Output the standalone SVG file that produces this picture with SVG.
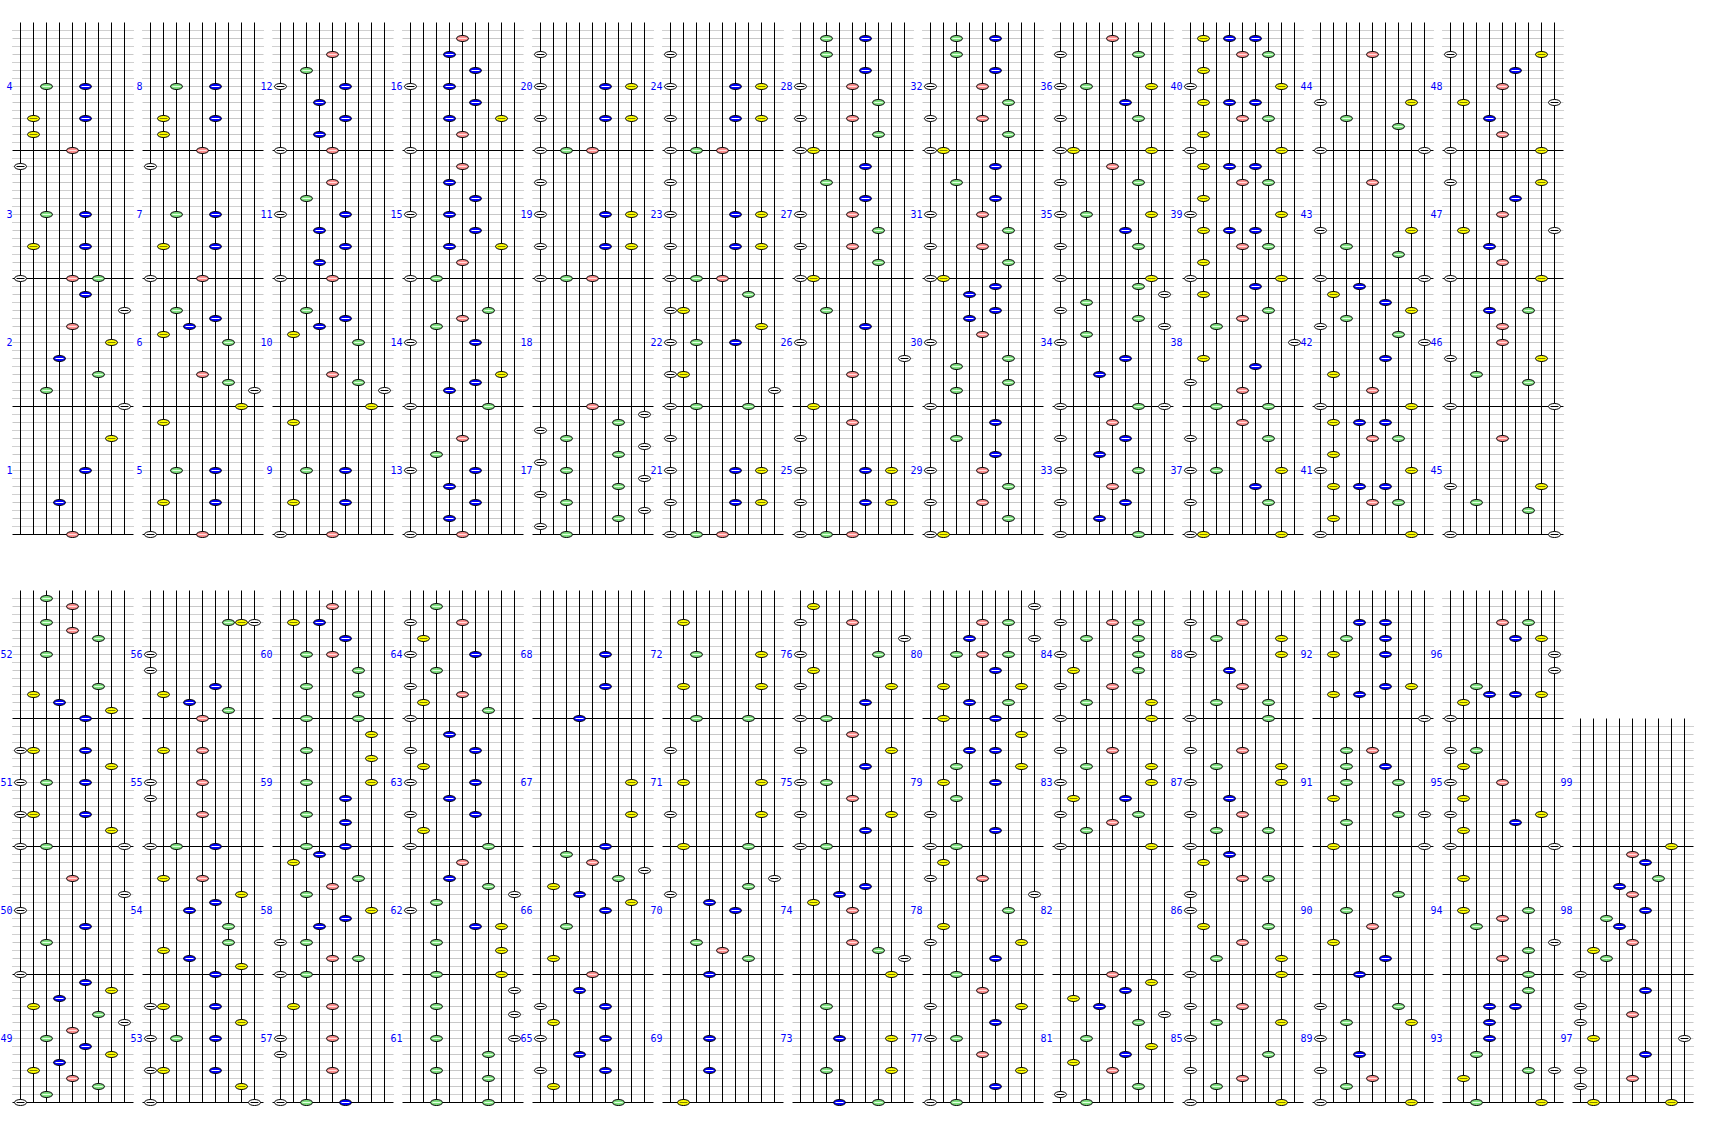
<svg xmlns="http://www.w3.org/2000/svg" xmlns:xlink="http://www.w3.org/1999/xlink" width="1720" height="1128" viewBox="0 0 1720 1128">
<style>
.h1{stroke:#a0a0a0;stroke-dasharray:1 1;fill:none}
.h2{stroke:#c8c8c8;fill:none}
.hb{stroke:#000;fill:none}
.v{stroke:#000;fill:none}
.lb{font-family:"DejaVu Sans Mono","Liberation Mono",monospace;font-size:10px;fill:#0000ff;text-anchor:end}
.ol{stroke:#000;stroke-width:1}
</style>
<defs>
<g id="m">
<path class="h1" d="M12 8H133M12 24H133M12 40H133M12 56H133M12 72H133M12 88H133M12 104H133M12 120H133"/>
<path class="h2" d="M12 16H133M12 32H133M12 48H133M12 64H133M12 80H133M12 96H133M12 112H133"/>
<path class="hb" d="M12 128H133"/>
<path class="v" d="M20 0V128M33 0V128M46 0V128M59 0V128M72 0V128M85 0V128M98 0V128M111 0V128M124 0V128"/>
</g>
<g id="W"><ellipse class="ol" rx="6" ry="3" fill="#ffffff"/><path d="M-4 0H4" stroke="#000"/></g>
<g id="Y"><ellipse class="ol" rx="6" ry="3" fill="#ffff00"/><path d="M-4 0H4" stroke="#808000"/></g>
<g id="G"><ellipse class="ol" rx="6" ry="3" fill="#80e080"/><path d="M-4 0H4" stroke="#e0ffe0"/></g>
<g id="B"><ellipse class="ol" rx="6" ry="3" fill="#0000ff"/><path d="M-4 0H4" stroke="#ffffff"/></g>
<g id="R"><ellipse class="ol" rx="6" ry="3" fill="#ff9090"/><path d="M-4 0H4" stroke="#ffe0e0"/></g>
<use id="l0" href="#W" x="20"/>
<use id="l1" href="#Y" x="33"/>
<use id="l2" href="#G" x="46"/>
<use id="l3" href="#B" x="59"/>
<use id="l4" href="#R" x="72"/>
<use id="l5" href="#B" x="85"/>
<use id="l6" href="#G" x="98"/>
<use id="l7" href="#Y" x="111"/>
<use id="l8" href="#W" x="124"/>
<g id="col"><use href="#m"/><use href="#m" y="128"/><use href="#m" y="256"/><use href="#m" y="384"/></g>
</defs>
<rect width="1720" height="1128" fill="#fff"/>

<g id="connectors"></g>

<g id="c0" transform="translate(0.5,22.5)"><use href="#col"/>
<text class="lb" x="12" y="67.5">4</text><text class="lb" x="12" y="195.5">3</text><text class="lb" x="12" y="323.5">2</text><text class="lb" x="12" y="451.5">1</text>
<use href="#l2" y="64"/><use href="#l5" y="64"/><use href="#l1" y="96"/><use href="#l5" y="96"/><use href="#l1" y="112"/><use href="#l4" y="128"/><use href="#l0" y="144"/><use href="#l2" y="192"/><use href="#l5" y="192"/><use href="#l1" y="224"/><use href="#l5" y="224"/><use href="#l0" y="256"/><use href="#l4" y="256"/><use href="#l6" y="256"/><use href="#l5" y="272"/><use href="#l8" y="288"/><use href="#l4" y="304"/><use href="#l7" y="320"/><use href="#l3" y="336"/><use href="#l6" y="352"/><use href="#l2" y="368"/><use href="#l8" y="384"/><use href="#l7" y="416"/><use href="#l5" y="448"/><use href="#l3" y="480"/><use href="#l4" y="512"/>
</g>

<g id="c1" transform="translate(130.5,22.5)"><use href="#col"/>
<text class="lb" x="12" y="67.5">8</text><text class="lb" x="12" y="195.5">7</text><text class="lb" x="12" y="323.5">6</text><text class="lb" x="12" y="451.5">5</text>
<use href="#l2" y="64"/><use href="#l5" y="64"/><use href="#l1" y="96"/><use href="#l5" y="96"/><use href="#l1" y="112"/><use href="#l4" y="128"/><use href="#l0" y="144"/><use href="#l2" y="192"/><use href="#l5" y="192"/><use href="#l1" y="224"/><use href="#l5" y="224"/><use href="#l0" y="256"/><use href="#l4" y="256"/><use href="#l2" y="288"/><use href="#l5" y="296"/><use href="#l3" y="304"/><use href="#l1" y="312"/><use href="#l6" y="320"/><use href="#l4" y="352"/><use href="#l6" y="360"/><use href="#l8" y="368"/><use href="#l7" y="384"/><use href="#l1" y="400"/><use href="#l2" y="448"/><use href="#l5" y="448"/><use href="#l1" y="480"/><use href="#l5" y="480"/><use href="#l0" y="512"/><use href="#l4" y="512"/>
</g>

<g id="c2" transform="translate(260.5,22.5)"><use href="#col"/>
<text class="lb" x="12" y="67.5">12</text><text class="lb" x="12" y="195.5">11</text><text class="lb" x="12" y="323.5">10</text><text class="lb" x="12" y="451.5">9</text>
<use href="#l4" y="32"/><use href="#l2" y="48"/><use href="#l0" y="64"/><use href="#l5" y="64"/><use href="#l3" y="80"/><use href="#l5" y="96"/><use href="#l3" y="112"/><use href="#l0" y="128"/><use href="#l4" y="128"/><use href="#l4" y="160"/><use href="#l2" y="176"/><use href="#l0" y="192"/><use href="#l5" y="192"/><use href="#l3" y="208"/><use href="#l5" y="224"/><use href="#l3" y="240"/><use href="#l0" y="256"/><use href="#l4" y="256"/><use href="#l2" y="288"/><use href="#l5" y="296"/><use href="#l3" y="304"/><use href="#l1" y="312"/><use href="#l6" y="320"/><use href="#l4" y="352"/><use href="#l6" y="360"/><use href="#l8" y="368"/><use href="#l7" y="384"/><use href="#l1" y="400"/><use href="#l2" y="448"/><use href="#l5" y="448"/><use href="#l1" y="480"/><use href="#l5" y="480"/><use href="#l0" y="512"/><use href="#l4" y="512"/>
</g>

<g id="c3" transform="translate(390.5,22.5)"><use href="#col"/>
<text class="lb" x="12" y="67.5">16</text><text class="lb" x="12" y="195.5">15</text><text class="lb" x="12" y="323.5">14</text><text class="lb" x="12" y="451.5">13</text>
<use href="#l4" y="16"/><use href="#l3" y="32"/><use href="#l5" y="48"/><use href="#l0" y="64"/><use href="#l3" y="64"/><use href="#l5" y="80"/><use href="#l3" y="96"/><use href="#l7" y="96"/><use href="#l4" y="112"/><use href="#l0" y="128"/><use href="#l4" y="144"/><use href="#l3" y="160"/><use href="#l5" y="176"/><use href="#l0" y="192"/><use href="#l3" y="192"/><use href="#l5" y="208"/><use href="#l3" y="224"/><use href="#l7" y="224"/><use href="#l4" y="240"/><use href="#l0" y="256"/><use href="#l2" y="256"/><use href="#l6" y="288"/><use href="#l4" y="296"/><use href="#l2" y="304"/><use href="#l0" y="320"/><use href="#l5" y="320"/><use href="#l7" y="352"/><use href="#l5" y="360"/><use href="#l3" y="368"/><use href="#l0" y="384"/><use href="#l6" y="384"/><use href="#l4" y="416"/><use href="#l2" y="432"/><use href="#l0" y="448"/><use href="#l5" y="448"/><use href="#l3" y="464"/><use href="#l5" y="480"/><use href="#l3" y="496"/><use href="#l0" y="512"/><use href="#l4" y="512"/>
</g>

<g id="c4" transform="translate(520.5,22.5)"><use href="#col"/>
<text class="lb" x="12" y="67.5">20</text><text class="lb" x="12" y="195.5">19</text><text class="lb" x="12" y="323.5">18</text><text class="lb" x="12" y="451.5">17</text>
<use href="#l0" y="32"/><use href="#l0" y="64"/><use href="#l5" y="64"/><use href="#l7" y="64"/><use href="#l0" y="96"/><use href="#l5" y="96"/><use href="#l7" y="96"/><use href="#l0" y="128"/><use href="#l2" y="128"/><use href="#l4" y="128"/><use href="#l0" y="160"/><use href="#l0" y="192"/><use href="#l5" y="192"/><use href="#l7" y="192"/><use href="#l0" y="224"/><use href="#l5" y="224"/><use href="#l7" y="224"/><use href="#l0" y="256"/><use href="#l2" y="256"/><use href="#l4" y="256"/><use href="#l4" y="384"/><use href="#l8" y="392"/><use href="#l6" y="400"/><use href="#l0" y="408"/><use href="#l2" y="416"/><use href="#l8" y="424"/><use href="#l6" y="432"/><use href="#l0" y="440"/><use href="#l2" y="448"/><use href="#l8" y="456"/><use href="#l6" y="464"/><use href="#l0" y="472"/><use href="#l2" y="480"/><use href="#l8" y="488"/><use href="#l6" y="496"/><use href="#l0" y="504"/><use href="#l2" y="512"/>
</g>

<g id="c5" transform="translate(650.5,22.5)"><use href="#col"/>
<text class="lb" x="12" y="67.5">24</text><text class="lb" x="12" y="195.5">23</text><text class="lb" x="12" y="323.5">22</text><text class="lb" x="12" y="451.5">21</text>
<use href="#l0" y="32"/><use href="#l0" y="64"/><use href="#l5" y="64"/><use href="#l7" y="64"/><use href="#l0" y="96"/><use href="#l5" y="96"/><use href="#l7" y="96"/><use href="#l0" y="128"/><use href="#l2" y="128"/><use href="#l4" y="128"/><use href="#l0" y="160"/><use href="#l0" y="192"/><use href="#l5" y="192"/><use href="#l7" y="192"/><use href="#l0" y="224"/><use href="#l5" y="224"/><use href="#l7" y="224"/><use href="#l0" y="256"/><use href="#l2" y="256"/><use href="#l4" y="256"/><use href="#l6" y="272"/><use href="#l0" y="288"/><use href="#l1" y="288"/><use href="#l7" y="304"/><use href="#l0" y="320"/><use href="#l2" y="320"/><use href="#l5" y="320"/><use href="#l0" y="352"/><use href="#l1" y="352"/><use href="#l8" y="368"/><use href="#l0" y="384"/><use href="#l2" y="384"/><use href="#l6" y="384"/><use href="#l0" y="416"/><use href="#l0" y="448"/><use href="#l5" y="448"/><use href="#l7" y="448"/><use href="#l0" y="480"/><use href="#l5" y="480"/><use href="#l7" y="480"/><use href="#l0" y="512"/><use href="#l2" y="512"/><use href="#l4" y="512"/>
</g>

<g id="c6" transform="translate(780.5,22.5)"><use href="#col"/>
<text class="lb" x="12" y="67.5">28</text><text class="lb" x="12" y="195.5">27</text><text class="lb" x="12" y="323.5">26</text><text class="lb" x="12" y="451.5">25</text>
<use href="#l2" y="16"/><use href="#l5" y="16"/><use href="#l2" y="32"/><use href="#l5" y="48"/><use href="#l0" y="64"/><use href="#l4" y="64"/><use href="#l6" y="80"/><use href="#l0" y="96"/><use href="#l4" y="96"/><use href="#l6" y="112"/><use href="#l0" y="128"/><use href="#l1" y="128"/><use href="#l5" y="144"/><use href="#l2" y="160"/><use href="#l5" y="176"/><use href="#l0" y="192"/><use href="#l4" y="192"/><use href="#l6" y="208"/><use href="#l0" y="224"/><use href="#l4" y="224"/><use href="#l6" y="240"/><use href="#l0" y="256"/><use href="#l1" y="256"/><use href="#l2" y="288"/><use href="#l5" y="304"/><use href="#l0" y="320"/><use href="#l8" y="336"/><use href="#l4" y="352"/><use href="#l1" y="384"/><use href="#l4" y="400"/><use href="#l0" y="416"/><use href="#l0" y="448"/><use href="#l5" y="448"/><use href="#l7" y="448"/><use href="#l0" y="480"/><use href="#l5" y="480"/><use href="#l7" y="480"/><use href="#l0" y="512"/><use href="#l2" y="512"/><use href="#l4" y="512"/>
</g>

<g id="c7" transform="translate(910.5,22.5)"><use href="#col"/>
<text class="lb" x="12" y="67.5">32</text><text class="lb" x="12" y="195.5">31</text><text class="lb" x="12" y="323.5">30</text><text class="lb" x="12" y="451.5">29</text>
<use href="#l2" y="16"/><use href="#l5" y="16"/><use href="#l2" y="32"/><use href="#l5" y="48"/><use href="#l0" y="64"/><use href="#l4" y="64"/><use href="#l6" y="80"/><use href="#l0" y="96"/><use href="#l4" y="96"/><use href="#l6" y="112"/><use href="#l0" y="128"/><use href="#l1" y="128"/><use href="#l5" y="144"/><use href="#l2" y="160"/><use href="#l5" y="176"/><use href="#l0" y="192"/><use href="#l4" y="192"/><use href="#l6" y="208"/><use href="#l0" y="224"/><use href="#l4" y="224"/><use href="#l6" y="240"/><use href="#l0" y="256"/><use href="#l1" y="256"/><use href="#l5" y="264"/><use href="#l3" y="272"/><use href="#l5" y="288"/><use href="#l3" y="296"/><use href="#l4" y="312"/><use href="#l0" y="320"/><use href="#l6" y="336"/><use href="#l2" y="344"/><use href="#l6" y="360"/><use href="#l2" y="368"/><use href="#l0" y="384"/><use href="#l5" y="400"/><use href="#l2" y="416"/><use href="#l5" y="432"/><use href="#l0" y="448"/><use href="#l4" y="448"/><use href="#l6" y="464"/><use href="#l0" y="480"/><use href="#l4" y="480"/><use href="#l6" y="496"/><use href="#l0" y="512"/><use href="#l1" y="512"/>
</g>

<g id="c8" transform="translate(1040.5,22.5)"><use href="#col"/>
<text class="lb" x="12" y="67.5">36</text><text class="lb" x="12" y="195.5">35</text><text class="lb" x="12" y="323.5">34</text><text class="lb" x="12" y="451.5">33</text>
<use href="#l4" y="16"/><use href="#l0" y="32"/><use href="#l6" y="32"/><use href="#l0" y="64"/><use href="#l2" y="64"/><use href="#l7" y="64"/><use href="#l5" y="80"/><use href="#l0" y="96"/><use href="#l6" y="96"/><use href="#l0" y="128"/><use href="#l1" y="128"/><use href="#l7" y="128"/><use href="#l4" y="144"/><use href="#l0" y="160"/><use href="#l6" y="160"/><use href="#l0" y="192"/><use href="#l2" y="192"/><use href="#l7" y="192"/><use href="#l5" y="208"/><use href="#l0" y="224"/><use href="#l6" y="224"/><use href="#l0" y="256"/><use href="#l7" y="256"/><use href="#l6" y="264"/><use href="#l8" y="272"/><use href="#l2" y="280"/><use href="#l0" y="288"/><use href="#l6" y="296"/><use href="#l8" y="304"/><use href="#l2" y="312"/><use href="#l0" y="320"/><use href="#l5" y="336"/><use href="#l3" y="352"/><use href="#l0" y="384"/><use href="#l6" y="384"/><use href="#l8" y="384"/><use href="#l4" y="400"/><use href="#l0" y="416"/><use href="#l5" y="416"/><use href="#l3" y="432"/><use href="#l0" y="448"/><use href="#l6" y="448"/><use href="#l4" y="464"/><use href="#l0" y="480"/><use href="#l5" y="480"/><use href="#l3" y="496"/><use href="#l0" y="512"/><use href="#l6" y="512"/>
</g>

<g id="c9" transform="translate(1170.5,22.5)"><use href="#col"/>
<text class="lb" x="12" y="67.5">40</text><text class="lb" x="12" y="195.5">39</text><text class="lb" x="12" y="323.5">38</text><text class="lb" x="12" y="451.5">37</text>
<use href="#l1" y="16"/><use href="#l3" y="16"/><use href="#l5" y="16"/><use href="#l4" y="32"/><use href="#l6" y="32"/><use href="#l1" y="48"/><use href="#l0" y="64"/><use href="#l7" y="64"/><use href="#l1" y="80"/><use href="#l3" y="80"/><use href="#l5" y="80"/><use href="#l4" y="96"/><use href="#l6" y="96"/><use href="#l1" y="112"/><use href="#l0" y="128"/><use href="#l7" y="128"/><use href="#l1" y="144"/><use href="#l3" y="144"/><use href="#l5" y="144"/><use href="#l4" y="160"/><use href="#l6" y="160"/><use href="#l1" y="176"/><use href="#l0" y="192"/><use href="#l7" y="192"/><use href="#l1" y="208"/><use href="#l3" y="208"/><use href="#l5" y="208"/><use href="#l4" y="224"/><use href="#l6" y="224"/><use href="#l1" y="240"/><use href="#l0" y="256"/><use href="#l7" y="256"/><use href="#l5" y="264"/><use href="#l1" y="272"/><use href="#l6" y="288"/><use href="#l4" y="296"/><use href="#l2" y="304"/><use href="#l8" y="320"/><use href="#l1" y="336"/><use href="#l5" y="344"/><use href="#l0" y="360"/><use href="#l4" y="368"/><use href="#l2" y="384"/><use href="#l6" y="384"/><use href="#l4" y="400"/><use href="#l0" y="416"/><use href="#l6" y="416"/><use href="#l0" y="448"/><use href="#l2" y="448"/><use href="#l7" y="448"/><use href="#l5" y="464"/><use href="#l0" y="480"/><use href="#l6" y="480"/><use href="#l0" y="512"/><use href="#l1" y="512"/><use href="#l7" y="512"/>
</g>

<g id="c10" transform="translate(1300.5,22.5)"><use href="#col"/>
<text class="lb" x="12" y="67.5">44</text><text class="lb" x="12" y="195.5">43</text><text class="lb" x="12" y="323.5">42</text><text class="lb" x="12" y="451.5">41</text>
<use href="#l4" y="32"/><use href="#l0" y="80"/><use href="#l7" y="80"/><use href="#l2" y="96"/><use href="#l6" y="104"/><use href="#l0" y="128"/><use href="#l8" y="128"/><use href="#l4" y="160"/><use href="#l0" y="208"/><use href="#l7" y="208"/><use href="#l2" y="224"/><use href="#l6" y="232"/><use href="#l0" y="256"/><use href="#l8" y="256"/><use href="#l3" y="264"/><use href="#l1" y="272"/><use href="#l5" y="280"/><use href="#l7" y="288"/><use href="#l2" y="296"/><use href="#l0" y="304"/><use href="#l6" y="312"/><use href="#l8" y="320"/><use href="#l5" y="336"/><use href="#l1" y="352"/><use href="#l4" y="368"/><use href="#l0" y="384"/><use href="#l7" y="384"/><use href="#l1" y="400"/><use href="#l3" y="400"/><use href="#l5" y="400"/><use href="#l4" y="416"/><use href="#l6" y="416"/><use href="#l1" y="432"/><use href="#l0" y="448"/><use href="#l7" y="448"/><use href="#l1" y="464"/><use href="#l3" y="464"/><use href="#l5" y="464"/><use href="#l4" y="480"/><use href="#l6" y="480"/><use href="#l1" y="496"/><use href="#l0" y="512"/><use href="#l7" y="512"/>
</g>

<g id="c11" transform="translate(1430.5,22.5)"><use href="#col"/>
<text class="lb" x="12" y="67.5">48</text><text class="lb" x="12" y="195.5">47</text><text class="lb" x="12" y="323.5">46</text><text class="lb" x="12" y="451.5">45</text>
<use href="#l0" y="32"/><use href="#l7" y="32"/><use href="#l5" y="48"/><use href="#l4" y="64"/><use href="#l1" y="80"/><use href="#l8" y="80"/><use href="#l3" y="96"/><use href="#l4" y="112"/><use href="#l0" y="128"/><use href="#l7" y="128"/><use href="#l0" y="160"/><use href="#l7" y="160"/><use href="#l5" y="176"/><use href="#l4" y="192"/><use href="#l1" y="208"/><use href="#l8" y="208"/><use href="#l3" y="224"/><use href="#l4" y="240"/><use href="#l0" y="256"/><use href="#l7" y="256"/><use href="#l3" y="288"/><use href="#l6" y="288"/><use href="#l4" y="304"/><use href="#l4" y="320"/><use href="#l0" y="336"/><use href="#l7" y="336"/><use href="#l2" y="352"/><use href="#l6" y="360"/><use href="#l0" y="384"/><use href="#l8" y="384"/><use href="#l4" y="416"/><use href="#l0" y="464"/><use href="#l7" y="464"/><use href="#l2" y="480"/><use href="#l6" y="488"/><use href="#l0" y="512"/><use href="#l8" y="512"/>
</g>

<g id="d0" transform="translate(0.5,590.5)"><use href="#col"/>
<text class="lb" x="12" y="67.5">52</text><text class="lb" x="12" y="195.5">51</text><text class="lb" x="12" y="323.5">50</text><text class="lb" x="12" y="451.5">49</text>
<use href="#l2" y="8"/><use href="#l4" y="16"/><use href="#l2" y="32"/><use href="#l4" y="40"/><use href="#l6" y="48"/><use href="#l2" y="64"/><use href="#l6" y="96"/><use href="#l1" y="104"/><use href="#l3" y="112"/><use href="#l7" y="120"/><use href="#l5" y="128"/><use href="#l0" y="160"/><use href="#l1" y="160"/><use href="#l5" y="160"/><use href="#l7" y="176"/><use href="#l0" y="192"/><use href="#l2" y="192"/><use href="#l5" y="192"/><use href="#l0" y="224"/><use href="#l1" y="224"/><use href="#l5" y="224"/><use href="#l7" y="240"/><use href="#l0" y="256"/><use href="#l2" y="256"/><use href="#l8" y="256"/><use href="#l4" y="288"/><use href="#l8" y="304"/><use href="#l0" y="320"/><use href="#l5" y="336"/><use href="#l2" y="352"/><use href="#l0" y="384"/><use href="#l5" y="392"/><use href="#l7" y="400"/><use href="#l3" y="408"/><use href="#l1" y="416"/><use href="#l6" y="424"/><use href="#l8" y="432"/><use href="#l4" y="440"/><use href="#l2" y="448"/><use href="#l5" y="456"/><use href="#l7" y="464"/><use href="#l3" y="472"/><use href="#l1" y="480"/><use href="#l4" y="488"/><use href="#l6" y="496"/><use href="#l2" y="504"/><use href="#l0" y="512"/>
</g>

<g id="d1" transform="translate(130.5,590.5)"><use href="#col"/>
<text class="lb" x="12" y="67.5">56</text><text class="lb" x="12" y="195.5">55</text><text class="lb" x="12" y="323.5">54</text><text class="lb" x="12" y="451.5">53</text>
<use href="#l6" y="32"/><use href="#l7" y="32"/><use href="#l8" y="32"/><use href="#l0" y="64"/><use href="#l0" y="80"/><use href="#l5" y="96"/><use href="#l1" y="104"/><use href="#l3" y="112"/><use href="#l6" y="120"/><use href="#l4" y="128"/><use href="#l1" y="160"/><use href="#l4" y="160"/><use href="#l0" y="192"/><use href="#l4" y="192"/><use href="#l0" y="208"/><use href="#l4" y="224"/><use href="#l0" y="256"/><use href="#l2" y="256"/><use href="#l5" y="256"/><use href="#l1" y="288"/><use href="#l4" y="288"/><use href="#l7" y="304"/><use href="#l5" y="312"/><use href="#l3" y="320"/><use href="#l6" y="336"/><use href="#l6" y="352"/><use href="#l1" y="360"/><use href="#l3" y="368"/><use href="#l7" y="376"/><use href="#l5" y="384"/><use href="#l0" y="416"/><use href="#l1" y="416"/><use href="#l5" y="416"/><use href="#l7" y="432"/><use href="#l0" y="448"/><use href="#l2" y="448"/><use href="#l5" y="448"/><use href="#l0" y="480"/><use href="#l1" y="480"/><use href="#l5" y="480"/><use href="#l7" y="496"/><use href="#l0" y="512"/><use href="#l8" y="512"/>
</g>

<g id="d2" transform="translate(260.5,590.5)"><use href="#col"/>
<text class="lb" x="12" y="67.5">60</text><text class="lb" x="12" y="195.5">59</text><text class="lb" x="12" y="323.5">58</text><text class="lb" x="12" y="451.5">57</text>
<use href="#l4" y="16"/><use href="#l1" y="32"/><use href="#l3" y="32"/><use href="#l5" y="48"/><use href="#l2" y="64"/><use href="#l4" y="64"/><use href="#l6" y="80"/><use href="#l2" y="96"/><use href="#l6" y="104"/><use href="#l2" y="128"/><use href="#l6" y="128"/><use href="#l7" y="144"/><use href="#l2" y="160"/><use href="#l7" y="168"/><use href="#l2" y="192"/><use href="#l7" y="192"/><use href="#l5" y="208"/><use href="#l2" y="224"/><use href="#l5" y="232"/><use href="#l2" y="256"/><use href="#l5" y="256"/><use href="#l3" y="264"/><use href="#l1" y="272"/><use href="#l6" y="288"/><use href="#l4" y="296"/><use href="#l2" y="304"/><use href="#l7" y="320"/><use href="#l5" y="328"/><use href="#l3" y="336"/><use href="#l0" y="352"/><use href="#l2" y="352"/><use href="#l4" y="368"/><use href="#l6" y="368"/><use href="#l0" y="384"/><use href="#l2" y="384"/><use href="#l1" y="416"/><use href="#l4" y="416"/><use href="#l0" y="448"/><use href="#l4" y="448"/><use href="#l0" y="464"/><use href="#l4" y="480"/><use href="#l0" y="512"/><use href="#l2" y="512"/><use href="#l5" y="512"/>
</g>

<g id="d3" transform="translate(390.5,590.5)"><use href="#col"/>
<text class="lb" x="12" y="67.5">64</text><text class="lb" x="12" y="195.5">63</text><text class="lb" x="12" y="323.5">62</text><text class="lb" x="12" y="451.5">61</text>
<use href="#l2" y="16"/><use href="#l0" y="32"/><use href="#l4" y="32"/><use href="#l1" y="48"/><use href="#l0" y="64"/><use href="#l5" y="64"/><use href="#l2" y="80"/><use href="#l0" y="96"/><use href="#l4" y="104"/><use href="#l1" y="112"/><use href="#l6" y="120"/><use href="#l0" y="128"/><use href="#l3" y="144"/><use href="#l0" y="160"/><use href="#l5" y="160"/><use href="#l1" y="176"/><use href="#l0" y="192"/><use href="#l5" y="192"/><use href="#l3" y="208"/><use href="#l0" y="224"/><use href="#l5" y="224"/><use href="#l1" y="240"/><use href="#l0" y="256"/><use href="#l6" y="256"/><use href="#l4" y="272"/><use href="#l3" y="288"/><use href="#l6" y="296"/><use href="#l8" y="304"/><use href="#l2" y="312"/><use href="#l0" y="320"/><use href="#l5" y="336"/><use href="#l7" y="336"/><use href="#l2" y="352"/><use href="#l7" y="360"/><use href="#l2" y="384"/><use href="#l7" y="384"/><use href="#l8" y="400"/><use href="#l2" y="416"/><use href="#l8" y="424"/><use href="#l2" y="448"/><use href="#l8" y="448"/><use href="#l6" y="464"/><use href="#l2" y="480"/><use href="#l6" y="488"/><use href="#l2" y="512"/><use href="#l6" y="512"/>
</g>

<g id="d4" transform="translate(520.5,590.5)"><use href="#col"/>
<text class="lb" x="12" y="67.5">68</text><text class="lb" x="12" y="195.5">67</text><text class="lb" x="12" y="323.5">66</text><text class="lb" x="12" y="451.5">65</text>
<use href="#l5" y="64"/><use href="#l5" y="96"/><use href="#l3" y="128"/><use href="#l7" y="192"/><use href="#l7" y="224"/><use href="#l5" y="256"/><use href="#l2" y="264"/><use href="#l4" y="272"/><use href="#l8" y="280"/><use href="#l6" y="288"/><use href="#l1" y="296"/><use href="#l3" y="304"/><use href="#l7" y="312"/><use href="#l5" y="320"/><use href="#l2" y="336"/><use href="#l1" y="368"/><use href="#l4" y="384"/><use href="#l3" y="400"/><use href="#l0" y="416"/><use href="#l5" y="416"/><use href="#l1" y="432"/><use href="#l0" y="448"/><use href="#l5" y="448"/><use href="#l3" y="464"/><use href="#l0" y="480"/><use href="#l5" y="480"/><use href="#l1" y="496"/><use href="#l6" y="512"/>
</g>

<g id="d5" transform="translate(650.5,590.5)"><use href="#col"/>
<text class="lb" x="12" y="67.5">72</text><text class="lb" x="12" y="195.5">71</text><text class="lb" x="12" y="323.5">70</text><text class="lb" x="12" y="451.5">69</text>
<use href="#l1" y="32"/><use href="#l2" y="64"/><use href="#l7" y="64"/><use href="#l1" y="96"/><use href="#l7" y="96"/><use href="#l2" y="128"/><use href="#l6" y="128"/><use href="#l0" y="160"/><use href="#l1" y="192"/><use href="#l7" y="192"/><use href="#l0" y="224"/><use href="#l7" y="224"/><use href="#l1" y="256"/><use href="#l6" y="256"/><use href="#l8" y="288"/><use href="#l6" y="296"/><use href="#l0" y="304"/><use href="#l3" y="312"/><use href="#l5" y="320"/><use href="#l2" y="352"/><use href="#l4" y="360"/><use href="#l6" y="368"/><use href="#l3" y="384"/><use href="#l3" y="448"/><use href="#l3" y="480"/><use href="#l1" y="512"/>
</g>

<g id="d6" transform="translate(780.5,590.5)"><use href="#col"/>
<text class="lb" x="12" y="67.5">76</text><text class="lb" x="12" y="195.5">75</text><text class="lb" x="12" y="323.5">74</text><text class="lb" x="12" y="451.5">73</text>
<use href="#l1" y="16"/><use href="#l0" y="32"/><use href="#l4" y="32"/><use href="#l8" y="48"/><use href="#l0" y="64"/><use href="#l6" y="64"/><use href="#l1" y="80"/><use href="#l0" y="96"/><use href="#l7" y="96"/><use href="#l5" y="112"/><use href="#l0" y="128"/><use href="#l2" y="128"/><use href="#l4" y="144"/><use href="#l0" y="160"/><use href="#l7" y="160"/><use href="#l5" y="176"/><use href="#l0" y="192"/><use href="#l2" y="192"/><use href="#l4" y="208"/><use href="#l0" y="224"/><use href="#l7" y="224"/><use href="#l5" y="240"/><use href="#l0" y="256"/><use href="#l2" y="256"/><use href="#l5" y="296"/><use href="#l3" y="304"/><use href="#l1" y="312"/><use href="#l4" y="320"/><use href="#l4" y="352"/><use href="#l6" y="360"/><use href="#l8" y="368"/><use href="#l7" y="384"/><use href="#l2" y="416"/><use href="#l3" y="448"/><use href="#l7" y="448"/><use href="#l2" y="480"/><use href="#l7" y="480"/><use href="#l3" y="512"/><use href="#l6" y="512"/>
</g>

<g id="d7" transform="translate(910.5,590.5)"><use href="#col"/>
<text class="lb" x="12" y="67.5">80</text><text class="lb" x="12" y="195.5">79</text><text class="lb" x="12" y="323.5">78</text><text class="lb" x="12" y="451.5">77</text>
<use href="#l8" y="16"/><use href="#l4" y="32"/><use href="#l6" y="32"/><use href="#l3" y="48"/><use href="#l8" y="48"/><use href="#l2" y="64"/><use href="#l4" y="64"/><use href="#l6" y="64"/><use href="#l5" y="80"/><use href="#l1" y="96"/><use href="#l7" y="96"/><use href="#l3" y="112"/><use href="#l6" y="112"/><use href="#l1" y="128"/><use href="#l5" y="128"/><use href="#l7" y="144"/><use href="#l3" y="160"/><use href="#l5" y="160"/><use href="#l2" y="176"/><use href="#l7" y="176"/><use href="#l1" y="192"/><use href="#l5" y="192"/><use href="#l2" y="208"/><use href="#l0" y="224"/><use href="#l5" y="240"/><use href="#l0" y="256"/><use href="#l2" y="256"/><use href="#l1" y="272"/><use href="#l0" y="288"/><use href="#l4" y="288"/><use href="#l8" y="304"/><use href="#l6" y="320"/><use href="#l1" y="336"/><use href="#l0" y="352"/><use href="#l7" y="352"/><use href="#l5" y="368"/><use href="#l2" y="384"/><use href="#l4" y="400"/><use href="#l0" y="416"/><use href="#l7" y="416"/><use href="#l5" y="432"/><use href="#l0" y="448"/><use href="#l2" y="448"/><use href="#l4" y="464"/><use href="#l7" y="480"/><use href="#l5" y="496"/><use href="#l0" y="512"/><use href="#l2" y="512"/>
</g>

<g id="d8" transform="translate(1040.5,590.5)"><use href="#col"/>
<text class="lb" x="12" y="67.5">84</text><text class="lb" x="12" y="195.5">83</text><text class="lb" x="12" y="323.5">82</text><text class="lb" x="12" y="451.5">81</text>
<use href="#l0" y="32"/><use href="#l4" y="32"/><use href="#l6" y="32"/><use href="#l2" y="48"/><use href="#l6" y="48"/><use href="#l0" y="64"/><use href="#l6" y="64"/><use href="#l1" y="80"/><use href="#l6" y="80"/><use href="#l0" y="96"/><use href="#l4" y="96"/><use href="#l2" y="112"/><use href="#l7" y="112"/><use href="#l0" y="128"/><use href="#l7" y="128"/><use href="#l0" y="160"/><use href="#l4" y="160"/><use href="#l2" y="176"/><use href="#l7" y="176"/><use href="#l0" y="192"/><use href="#l7" y="192"/><use href="#l1" y="208"/><use href="#l5" y="208"/><use href="#l0" y="224"/><use href="#l6" y="224"/><use href="#l4" y="232"/><use href="#l2" y="240"/><use href="#l0" y="256"/><use href="#l7" y="256"/><use href="#l4" y="384"/><use href="#l7" y="392"/><use href="#l5" y="400"/><use href="#l1" y="408"/><use href="#l3" y="416"/><use href="#l8" y="424"/><use href="#l6" y="432"/><use href="#l2" y="448"/><use href="#l7" y="456"/><use href="#l5" y="464"/><use href="#l1" y="472"/><use href="#l4" y="480"/><use href="#l6" y="496"/><use href="#l0" y="504"/><use href="#l2" y="512"/>
</g>

<g id="d9" transform="translate(1170.5,590.5)"><use href="#col"/>
<text class="lb" x="12" y="67.5">88</text><text class="lb" x="12" y="195.5">87</text><text class="lb" x="12" y="323.5">86</text><text class="lb" x="12" y="451.5">85</text>
<use href="#l0" y="32"/><use href="#l4" y="32"/><use href="#l2" y="48"/><use href="#l7" y="48"/><use href="#l0" y="64"/><use href="#l7" y="64"/><use href="#l3" y="80"/><use href="#l4" y="96"/><use href="#l2" y="112"/><use href="#l6" y="112"/><use href="#l0" y="128"/><use href="#l6" y="128"/><use href="#l0" y="160"/><use href="#l4" y="160"/><use href="#l2" y="176"/><use href="#l7" y="176"/><use href="#l0" y="192"/><use href="#l7" y="192"/><use href="#l3" y="208"/><use href="#l0" y="224"/><use href="#l4" y="224"/><use href="#l2" y="240"/><use href="#l6" y="240"/><use href="#l0" y="256"/><use href="#l3" y="264"/><use href="#l1" y="272"/><use href="#l4" y="288"/><use href="#l6" y="288"/><use href="#l0" y="304"/><use href="#l0" y="320"/><use href="#l1" y="336"/><use href="#l6" y="336"/><use href="#l4" y="352"/><use href="#l2" y="368"/><use href="#l7" y="368"/><use href="#l0" y="384"/><use href="#l7" y="384"/><use href="#l0" y="416"/><use href="#l4" y="416"/><use href="#l2" y="432"/><use href="#l7" y="432"/><use href="#l0" y="448"/><use href="#l6" y="464"/><use href="#l0" y="480"/><use href="#l4" y="488"/><use href="#l2" y="496"/><use href="#l7" y="512"/><use href="#l0" y="512"/>
</g>

<g id="d10" transform="translate(1300.5,590.5)"><use href="#col"/>
<text class="lb" x="12" y="67.5">92</text><text class="lb" x="12" y="195.5">91</text><text class="lb" x="12" y="323.5">90</text><text class="lb" x="12" y="451.5">89</text>
<use href="#l3" y="32"/><use href="#l5" y="32"/><use href="#l2" y="48"/><use href="#l5" y="48"/><use href="#l1" y="64"/><use href="#l5" y="64"/><use href="#l5" y="96"/><use href="#l7" y="96"/><use href="#l1" y="104"/><use href="#l3" y="104"/><use href="#l8" y="128"/><use href="#l2" y="160"/><use href="#l4" y="160"/><use href="#l2" y="176"/><use href="#l5" y="176"/><use href="#l2" y="192"/><use href="#l6" y="192"/><use href="#l1" y="208"/><use href="#l6" y="224"/><use href="#l8" y="224"/><use href="#l2" y="232"/><use href="#l1" y="256"/><use href="#l8" y="256"/><use href="#l6" y="304"/><use href="#l2" y="320"/><use href="#l4" y="336"/><use href="#l1" y="352"/><use href="#l5" y="368"/><use href="#l3" y="384"/><use href="#l0" y="416"/><use href="#l6" y="416"/><use href="#l2" y="432"/><use href="#l7" y="432"/><use href="#l0" y="448"/><use href="#l3" y="464"/><use href="#l0" y="480"/><use href="#l4" y="488"/><use href="#l2" y="496"/><use href="#l7" y="512"/><use href="#l0" y="512"/>
</g>

<g id="d11" transform="translate(1430.5,590.5)"><use href="#col"/>
<text class="lb" x="12" y="67.5">96</text><text class="lb" x="12" y="195.5">95</text><text class="lb" x="12" y="323.5">94</text><text class="lb" x="12" y="451.5">93</text>
<use href="#l4" y="32"/><use href="#l6" y="32"/><use href="#l5" y="48"/><use href="#l7" y="48"/><use href="#l8" y="64"/><use href="#l8" y="80"/><use href="#l2" y="96"/><use href="#l3" y="104"/><use href="#l5" y="104"/><use href="#l7" y="104"/><use href="#l1" y="112"/><use href="#l0" y="128"/><use href="#l0" y="160"/><use href="#l2" y="160"/><use href="#l1" y="176"/><use href="#l0" y="192"/><use href="#l4" y="192"/><use href="#l1" y="208"/><use href="#l0" y="224"/><use href="#l7" y="224"/><use href="#l5" y="232"/><use href="#l1" y="240"/><use href="#l0" y="256"/><use href="#l8" y="256"/><use href="#l1" y="288"/><use href="#l1" y="320"/><use href="#l6" y="320"/><use href="#l4" y="328"/><use href="#l2" y="336"/><use href="#l8" y="352"/><use href="#l6" y="360"/><use href="#l4" y="368"/><use href="#l6" y="384"/><use href="#l6" y="400"/><use href="#l3" y="416"/><use href="#l5" y="416"/><use href="#l3" y="432"/><use href="#l3" y="448"/><use href="#l2" y="464"/><use href="#l6" y="480"/><use href="#l8" y="480"/><use href="#l1" y="488"/><use href="#l2" y="512"/><use href="#l7" y="512"/>
</g>

<g id="d12" transform="translate(1560.5,590.5)"><use href="#m" y="128"/><use href="#m" y="256"/><use href="#m" y="384"/>
<text class="lb" x="12" y="195.5">99</text><text class="lb" x="12" y="323.5">98</text><text class="lb" x="12" y="451.5">97</text>
<use href="#l7" y="256"/><use href="#l4" y="264"/><use href="#l5" y="272"/><use href="#l6" y="288"/><use href="#l3" y="296"/><use href="#l4" y="304"/><use href="#l5" y="320"/><use href="#l2" y="328"/><use href="#l3" y="336"/><use href="#l4" y="352"/><use href="#l1" y="360"/><use href="#l2" y="368"/><use href="#l0" y="384"/><use href="#l5" y="400"/><use href="#l0" y="416"/><use href="#l4" y="424"/><use href="#l0" y="432"/><use href="#l1" y="448"/><use href="#l8" y="448"/><use href="#l5" y="464"/><use href="#l0" y="480"/><use href="#l4" y="488"/><use href="#l0" y="496"/><use href="#l1" y="512"/><use href="#l7" y="512"/>
</g>
</svg>
